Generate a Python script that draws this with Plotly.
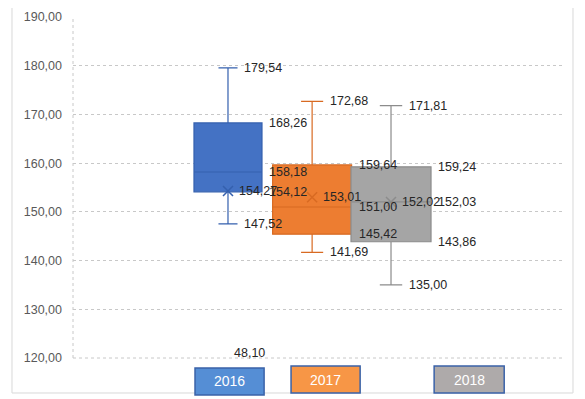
import plotly.graph_objects as go

# ---- data ----
years = ["2016", "2017", "2018"]
minimum = [147.52, 141.69, 135.00]
q1 = [154.12, 145.42, 143.86]
median = [158.18, 151.00, 152.03]
q3 = [168.26, 159.64, 159.24]
maximum = [179.54, 172.68, 171.81]
mean = [154.27, 153.01, 152.02]
outlier_year = ["2016"]
outlier_value = [48.10]
y_ticks = [120, 130, 140, 150, 160, 170, 180, 190]

# ---- styling / layout ----
positions = [3.163, 4.88, 6.49]
widths = [1.388, 1.612, 1.633]
fills = ["#4472C4", "#ED7D31", "#A5A5A5"]
lines = ["#3560AE", "#D86A22", "#8C8C8C"]
leg_fill = ["#558ED5", "#F79646", "#AEAAAA"]
leg_box = [(0.249, 0.390, -0.0293, -0.1085), (0.445, 0.586, -0.0235, -0.1026), (0.737, 0.880, -0.0235, -0.1026)]

def fmt(v):
    return f"{v:.2f}".replace(".", ",")

fig = go.Figure()
for i, yr in enumerate(years):
    fig.add_trace(go.Box(
        x=[positions[i]], q1=[q1[i]], median=[median[i]], q3=[q3[i]],
        lowerfence=[minimum[i]], upperfence=[maximum[i]],
        width=widths[i], whiskerwidth=0.28, boxpoints=False,
        fillcolor=fills[i], line=dict(color=lines[i], width=1.2),
        name=yr, showlegend=False, hoverinfo="skip"))
    fig.add_trace(go.Scatter(
        x=[positions[i]], y=[mean[i]], mode="markers",
        marker=dict(symbol="x-thin-open", size=10, color=lines[i],
                    line=dict(color=lines[i], width=1.5)),
        showlegend=False, hoverinfo="skip"))

gap = 0.1
cap = 0.28
annotations = []
font_lbl = dict(family="Liberation Sans, Arial", size=12.5, color="#262626")
for i, yr in enumerate(years):
    c, w = positions[i], widths[i]
    items = [
        (c + w * cap / 2 + gap, maximum[i]),
        (c + w / 2 + gap, q3[i]),
        (c + w / 2 + gap, median[i]),
        (c + 0.18, mean[i]),
        (c + w / 2 + gap, q1[i]),
        (c + w * cap / 2 + gap, minimum[i]),
    ]
    for x, v in items:
        annotations.append(dict(x=x, y=v, xref="x", yref="y", text=fmt(v),
                                showarrow=False, xanchor="left", yanchor="middle",
                                font=font_lbl))
for yr, v in zip(outlier_year, outlier_value):
    c = positions[years.index(yr)]
    annotations.append(dict(x=c + 0.08, y=120, xref="x", yref="y", text=fmt(v),
                            showarrow=False, xanchor="left", yanchor="bottom",
                            yshift=-4, font=font_lbl))

shapes = []
# outer frame
shapes.append(dict(type="rect", xref="paper", yref="paper", x0=-0.1245, x1=1.0204,
                   y0=-0.1026, y1=1.0469, line=dict(color="#D9D9D9", width=1)))
# dotted left / bottom axis lines
shapes.append(dict(type="line", xref="paper", yref="paper", x0=0, x1=0, y0=0, y1=1,
                   line=dict(color="#C8C8C8", width=1, dash="dot")))
shapes.append(dict(type="line", xref="paper", yref="paper", x0=0, x1=1, y0=0, y1=0,
                   line=dict(color="#C8C8C8", width=1, dash="dot")))
for i, yr in enumerate(years):
    x0, x1, y0, y1 = leg_box[i]
    shapes.append(dict(type="rect", xref="paper", yref="paper", x0=x0, x1=x1, y0=y1, y1=y0,
                       fillcolor=leg_fill[i], line=dict(color="#3A62A8", width=1.5)))
    annotations.append(dict(x=(x0 + x1) / 2, y=(y0 + y1) / 2, xref="paper", yref="paper",
                            text=yr, showarrow=False, xanchor="center", yanchor="middle",
                            font=dict(family="Liberation Sans, Arial", size=14, color="white")))

fig.update_layout(
    width=577, height=391,
    margin=dict(l=65, r=22, t=9, b=41, autoexpand=False),
    paper_bgcolor="white", plot_bgcolor="white",
    separators=",.",
    showlegend=False,
    shapes=shapes, annotations=annotations,
    xaxis=dict(range=[0, 10], showgrid=False, zeroline=False, showticklabels=False,
               showline=False, fixedrange=True),
    yaxis=dict(range=[120, 190], tickvals=y_ticks, tickformat=".2f",
               showgrid=True, gridcolor="#C8C8C8", griddash="dot", gridwidth=1,
               zeroline=False, showline=False, ticks="",
               ticklabelstandoff=10,
               tickfont=dict(family="Liberation Sans, Arial", size=12.5, color="#595959")),
)

fig.write_html("out.html")
